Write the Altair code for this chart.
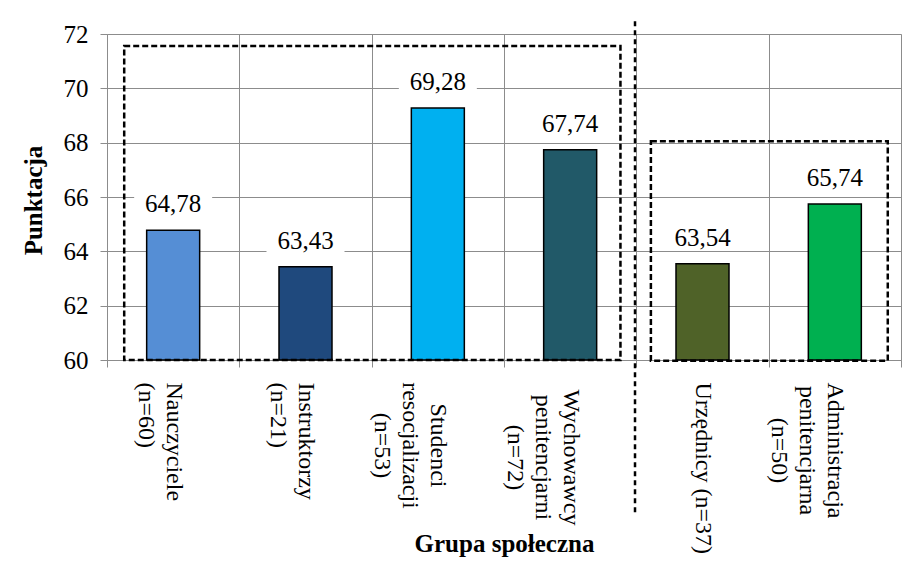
import altair as alt
import pandas as pd

# ---- data ----
categories = [
    "Nauczyciele|(n=60)",
    "Instruktorzy|(n=21)",
    "Studenci|resocjalizacji|(n=53)",
    "Wychowawcy|penitencjarni|(n=72)",
    "Urzędnicy (n=37)",
    "Administracja|penitencjarna|(n=50)",
]
values = [64.78, 63.43, 69.28, 67.74, 63.54, 65.74]
bar_colors = ["#558ED5", "#1F497D", "#00B0F0", "#215968", "#4F6228", "#00B050"]
y_ticks = [60, 62, 64, 66, 68, 70, 72]

# dashed group frames (x in category slots 0..6, y in score units)
frame_x1 = [0.13, 4.11]
frame_x2 = [3.88, 5.90]
frame_y1 = [60.0, 59.97]
frame_y2 = [71.56, 68.05]
# dashed divider between the two groups
divider_x = [3.99]
divider_y1 = [54.4]
divider_y2 = [72.5]

FONT = "Liberation Serif"
GRID = "#8c8c8c"

df = pd.DataFrame({
    "cat": categories,
    "value": values,
    "label": [f"{v:.2f}".replace(".", ",") for v in values],
})
df_frames = pd.DataFrame({"x1": frame_x1, "x2": frame_x2, "y1": frame_y1, "y2": frame_y2})
df_div = pd.DataFrame({"x": divider_x, "y1": divider_y1, "y2": divider_y2})

yscale = alt.Scale(domain=[60, 72], nice=False, zero=False)

# multi-line labels whose lines are centred in the reference
centred = {categories[2]: 78, categories[3]: 90, categories[5]: 83}
pad_cond = {
    "condition": [{"test": f"datum.value == '{k}'", "value": v} for k, v in centred.items()],
    "value": 15,
}
align_cond = {
    "condition": [{"test": f"datum.value == '{k}'", "value": "center"} for k in centred],
    "value": "left",
}

x_enc = alt.X(
    "cat:N",
    sort=categories,
    scale=alt.Scale(paddingInner=0, paddingOuter=0),
    axis=alt.Axis(
        title="Grupa społeczna",
        labelExpr="split(datum.label, '|')",
        labelAngle=90,
        labelAlign=align_cond,
        labelBaseline="middle",
        labelFont=FONT,
        labelFontSize=24,
        labelLineHeight=28,
        labelPadding=pad_cond,
        labelLimit=0,
        labelColor="black",
        grid=True,
        tickBand="extent",
        gridColor=GRID,
        tickColor=GRID,
        tickSize=7,
        domainColor=GRID,
        titleFont=FONT,
        titleFontSize=25,
        titleFontWeight="bold",
        titleColor="black",
        titleY=191,
        titleBaseline="alphabetic",
    ),
)

y_axis = alt.Axis(
    title="Punktacja",
    values=y_ticks,
    labelFont=FONT,
    labelFontSize=25,
    labelPadding=12,
    labelColor="black",
    grid=True,
    gridColor=GRID,
    tickColor=GRID,
    tickSize=7,
    domainColor=GRID,
    titleFont=FONT,
    titleFontSize=25,
    titleFontWeight="bold",
    titleColor="black",
    titleX=-74,
    titleY=166,
    titleBaseline="middle",
)

y_enc = alt.Y("value:Q", scale=yscale, axis=y_axis)

label_boxes = alt.Chart(df).mark_tick(
    color="white", size=78, thickness=26, opacity=1, yOffset=-26
).encode(x=x_enc, y=y_enc)

bars = alt.Chart(df).mark_bar(stroke="black", strokeWidth=1.5, size=53).encode(
    x=x_enc,
    y=y_enc,
    y2=alt.datum(60),
    color=alt.Color("cat:N", scale=alt.Scale(domain=categories, range=bar_colors), legend=None),
)

texts = alt.Chart(df).mark_text(
    dy=-26, font=FONT, fontSize=25, color="black", baseline="middle"
).encode(x=x_enc, y=y_enc, text="label:N")

main = alt.layer(label_boxes, bars, texts)

xq = alt.Scale(domain=[0, 6], nice=False, zero=False)

frames = alt.Chart(df_frames).mark_rect(
    fillOpacity=0, stroke="black", strokeWidth=2.5, strokeDash=[6, 3]
).encode(
    x=alt.X("x1:Q", scale=xq, axis=None),
    x2="x2:Q",
    y=alt.Y("y1:Q", scale=yscale, axis=y_axis),
    y2="y2:Q",
)

divider = alt.Chart(df_div).mark_rule(
    color="black", strokeWidth=2.5, strokeDash=[5, 4]
).encode(
    x=alt.X("x:Q", scale=xq, axis=None),
    y=alt.Y("y1:Q", scale=yscale, axis=y_axis),
    y2="y2:Q",
)

annot = alt.layer(frames, divider)

chart = alt.layer(main, annot).resolve_scale(x="independent").properties(
    width=794,
    height=326,
    padding={"left": 99, "top": 26, "right": 1, "bottom": 198},
    autosize=alt.AutoSizeParams(type="none"),
).configure_view(stroke=None).configure(background="white")

chart.save("out.html", embed_options={"renderer": "svg", "actions": False})
